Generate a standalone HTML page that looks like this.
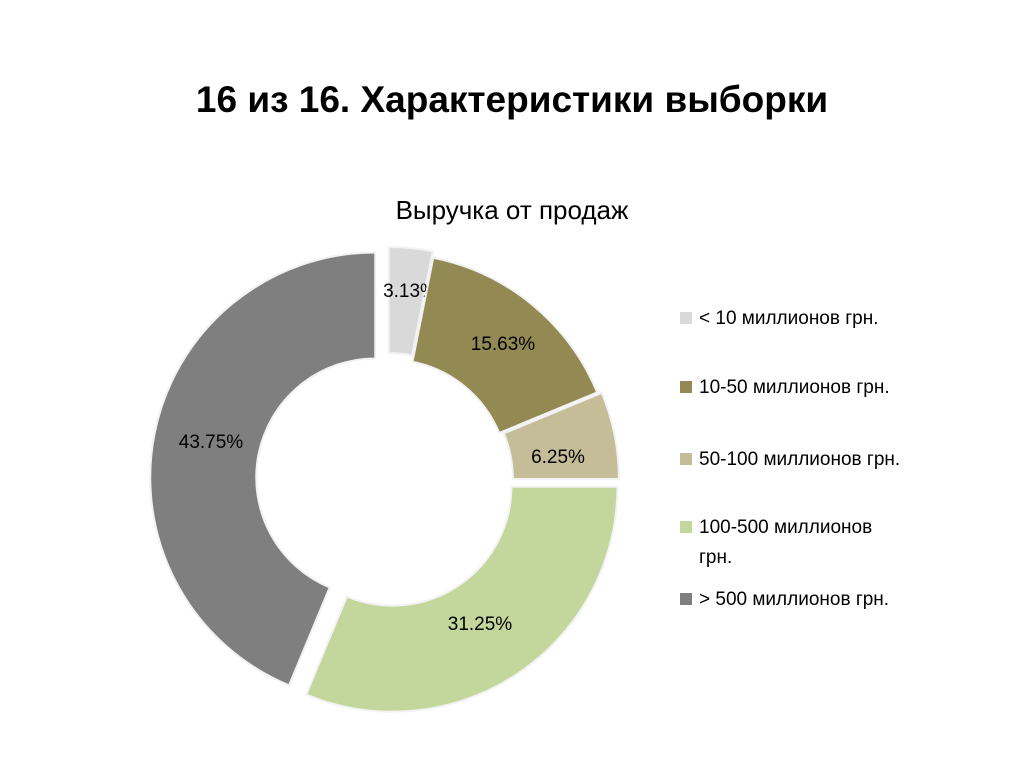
<!DOCTYPE html>
<html><head><meta charset="utf-8"><style>
body{margin:0;background:#fff;}
svg text{font-family:"Liberation Sans","DejaVu Sans",sans-serif;}
</style></head><body>
<svg width="1024" height="768" viewBox="0 0 1024 768">
<text x="512" y="112" text-anchor="middle" font-size="37" font-weight="bold" fill="#000">16 из 16. Характеристики выборки</text>
<text x="512" y="219" text-anchor="middle" font-size="26" fill="#000">Выручка от продаж</text>
<g id="donut"></g>
<g id="legend"></g>
</svg>
<script>
const categories=["< 10 миллионов грн.","10-50 миллионов грн.","50-100 миллионов грн.","100-500 миллионов грн.","> 500 миллионов грн."];
const values=[3.13,15.63,6.25,31.25,43.75];
const valueLabels=["3.13%","15.63%","6.25%","31.25%","43.75%"];
const colors=["#d9d9d9","#938953","#c4bd97","#c3d69b","#7f7f7f"];
const explode=[8,2,6,8,13];
const ns="http://www.w3.org/2000/svg";
const cx=388,cy=480,R=225,r=119;
const g=document.getElementById('donut');
const total=values.reduce((a,b)=>a+b,0);
function pt(a,rad,ox,oy){return [ox+rad*Math.sin(a),oy-rad*Math.cos(a)];}
let acc=0;
const labelPos=[[410,297],[503,350],[558,463],[480,630],[211,448]];
values.forEach((v,i)=>{
  const a0=acc/total*2*Math.PI; acc+=v; const a1=acc/total*2*Math.PI;
  const mid=(a0+a1)/2;
  const ox=cx+explode[i]*Math.sin(mid), oy=cy-explode[i]*Math.cos(mid);
  const large=(a1-a0)>Math.PI?1:0;
  const p1=pt(a0,R,ox,oy),p2=pt(a1,R,ox,oy),p3=pt(a1,r,ox,oy),p4=pt(a0,r,ox,oy);
  const p=document.createElementNS(ns,'path');
  p.setAttribute('d',`M${p1} A${R},${R} 0 ${large} 1 ${p2} L${p3} A${r},${r} 0 ${large} 0 ${p4} Z`);
  p.setAttribute('fill',colors[i]);p.setAttribute('stroke','#f2f2f2');p.setAttribute('stroke-width','2');
  
  
  g.appendChild(p);
  const t=document.createElementNS(ns,'text');
  t.setAttribute('x',labelPos[i][0]);t.setAttribute('y',labelPos[i][1]);
  t.setAttribute('text-anchor','middle');t.setAttribute('font-size','19');
  t.textContent=valueLabels[i];
  
  
  g.appendChild(t);
});
const lg=document.getElementById('legend');
const ly=[[324],[393],[465],[533,563],[605]];
categories.forEach((c,i)=>{
  const s=document.createElementNS(ns,'rect');
  s.setAttribute('x',680);s.setAttribute('y',ly[i][0]-12);s.setAttribute('width',12);s.setAttribute('height',12);
  s.setAttribute('fill',colors[i]);
  
  
  lg.appendChild(s);
  const t=document.createElementNS(ns,'text');
  t.setAttribute('font-size','19');
  
  
  if(ly[i].length>1){
    const parts=["100-500 миллионов","грн."];
    parts.forEach((pp,k)=>{const ts=document.createElementNS(ns,'tspan');ts.setAttribute('x',699);ts.setAttribute('y',ly[i][k]);ts.textContent=pp;t.appendChild(ts);});
  } else {t.setAttribute('x',699);t.setAttribute('y',ly[i][0]);t.textContent=c;}
  lg.appendChild(t);
});
</script>
</body></html>
